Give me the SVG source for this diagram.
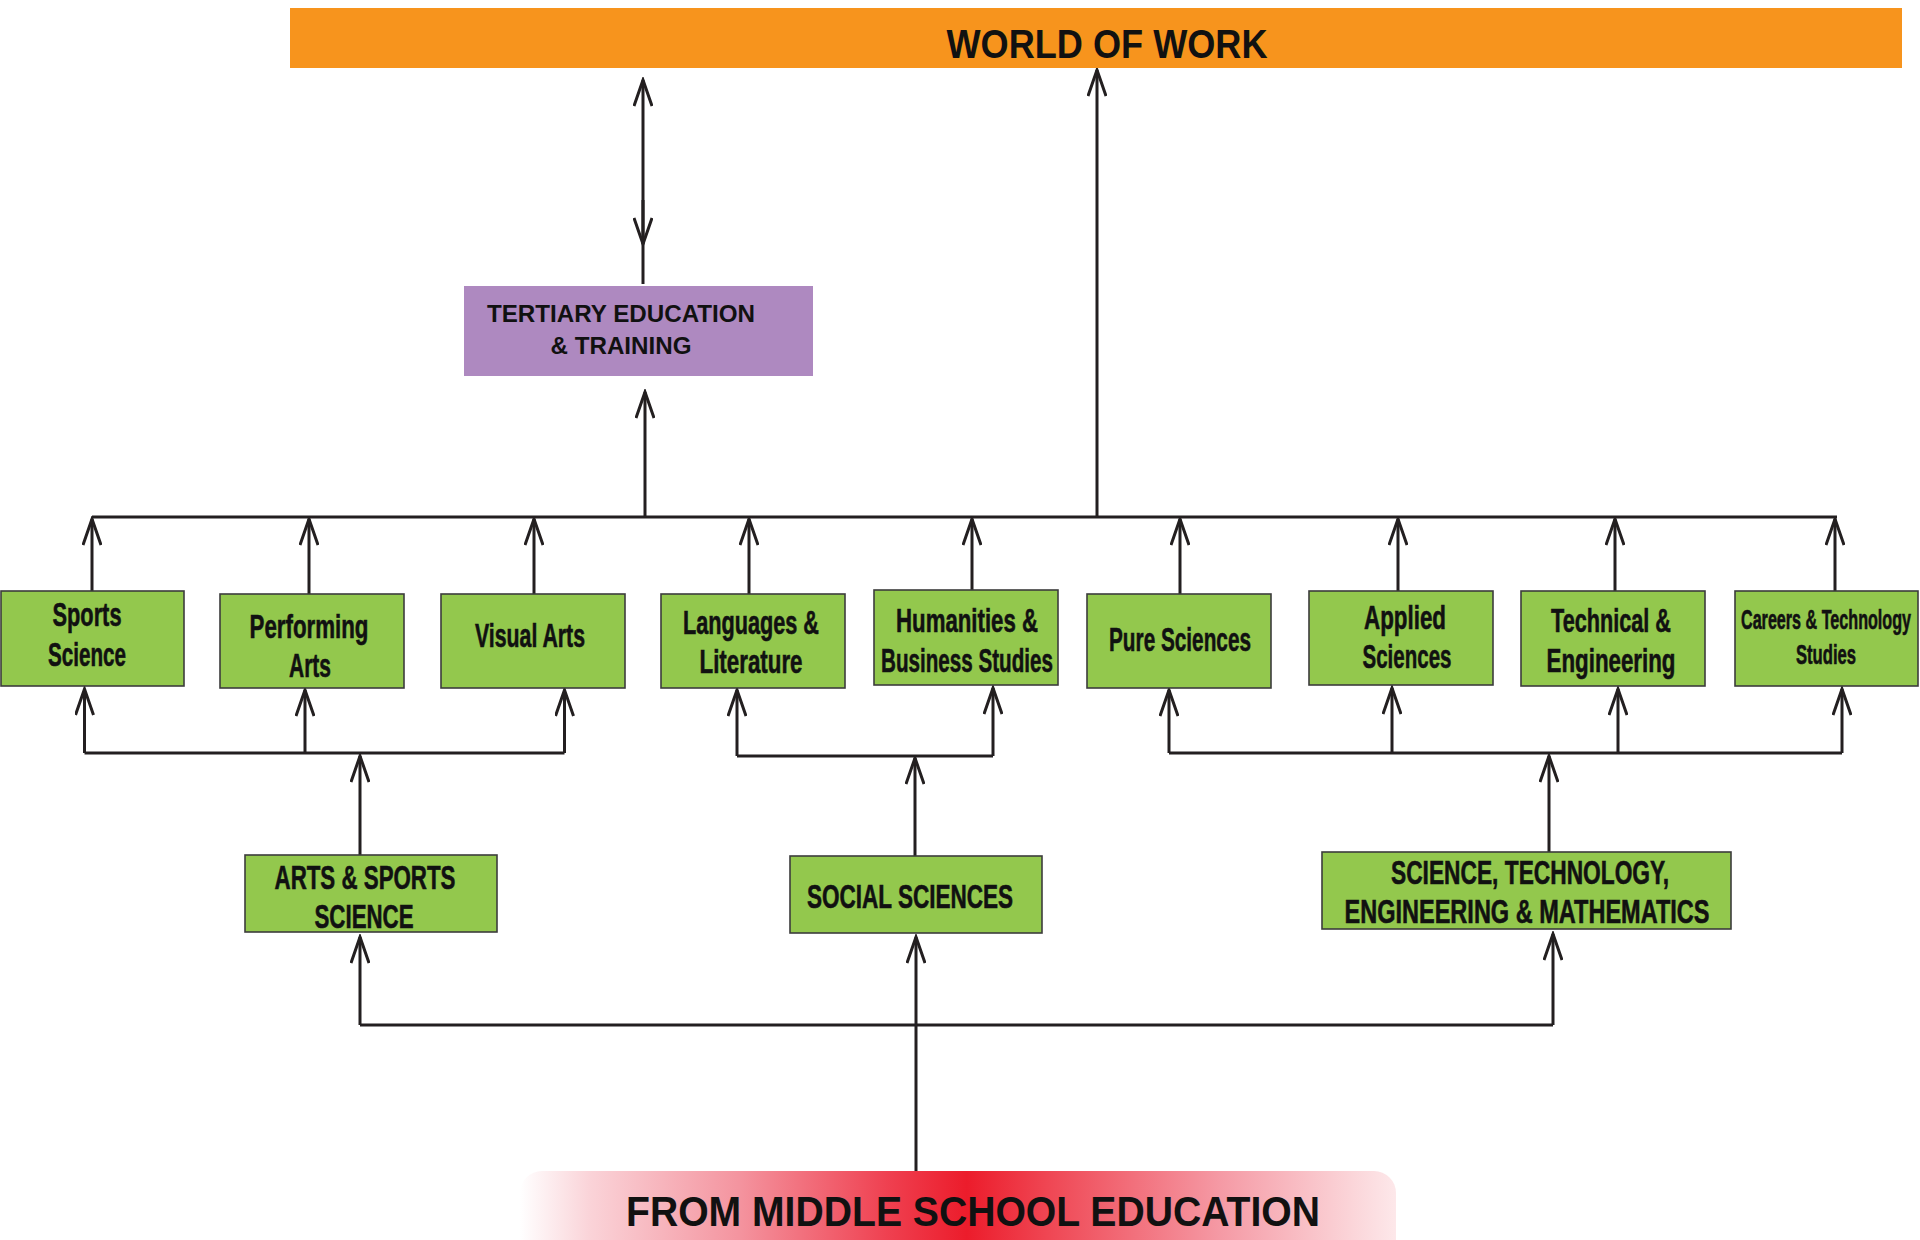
<svg xmlns="http://www.w3.org/2000/svg" width="1920" height="1240" viewBox="0 0 1920 1240">
<defs>
<style>
.box{fill:#93c84d;stroke:#3c3c3c;stroke-width:1.6}
.lbl{font-family:"Liberation Sans",Arial,sans-serif;font-weight:bold;font-size:34px;fill:#111;stroke:#111;stroke-width:0.6;text-anchor:middle}
.sm{font-size:27px}
.hd{font-family:"Liberation Sans",Arial,sans-serif;font-weight:bold;fill:#111;text-anchor:middle}
.ln{fill:none;stroke:#231f20;stroke-width:3}
.ar{fill:none;stroke:#231f20;stroke-width:3;marker-end:url(#arr)}
</style>
<marker id="arr" markerUnits="userSpaceOnUse" viewBox="0 0 30 20" markerWidth="30" markerHeight="20" refX="27" refY="10" orient="auto">
<path d="M1,1 L27,10 L1,19" fill="none" stroke="#231f20" stroke-width="3"/>
</marker>
<linearGradient id="red" x1="0" y1="0" x2="1" y2="0">
<stop offset="0" stop-color="#ffffff"/>
<stop offset="0.08" stop-color="#fad3d8"/>
<stop offset="0.25" stop-color="#f4949f"/>
<stop offset="0.42" stop-color="#ef4050"/>
<stop offset="0.51" stop-color="#ec1c2b"/>
<stop offset="0.6" stop-color="#ef4552"/>
<stop offset="0.8" stop-color="#f59aa5"/>
<stop offset="0.95" stop-color="#fbd5d9"/>
<stop offset="1" stop-color="#fde8ea"/>
</linearGradient>
</defs>
<rect width="1920" height="1240" fill="#ffffff"/>

<g id="connectors">
<path class="ln" d="M92 517 H1837"/>
<path class="ar" d="M643 284 V80"/>
<path class="ar" d="M643 200 V244"/>
<path class="ar" d="M1097 517 V70"/>
<path class="ar" d="M645 517 V392"/>
<path class="ar" d="M92 591 V519"/>
<path class="ar" d="M309 594 V519"/>
<path class="ar" d="M534 594 V519"/>
<path class="ar" d="M749 594 V519"/>
<path class="ar" d="M972 590 V519"/>
<path class="ar" d="M1180 594 V519"/>
<path class="ar" d="M1398 591 V519"/>
<path class="ar" d="M1615 591 V519"/>
<path class="ar" d="M1835 591 V519"/>
<path class="ln" d="M84.5 753 H564.5"/>
<path class="ar" d="M84.5 753 V689"/>
<path class="ar" d="M305 753 V690"/>
<path class="ar" d="M564.5 753 V690"/>
<path class="ar" d="M360 855 V756"/>
<path class="ln" d="M737 756 H993"/>
<path class="ar" d="M737 756 V690"/>
<path class="ar" d="M993 756 V688"/>
<path class="ar" d="M915 856 V758"/>
<path class="ln" d="M1169 753 H1842"/>
<path class="ar" d="M1169 753 V690"/>
<path class="ar" d="M1392 753 V688"/>
<path class="ar" d="M1618 753 V689"/>
<path class="ar" d="M1842 753 V689"/>
<path class="ar" d="M1549 852 V756"/>
<path class="ln" d="M360 1025 H1553"/>
<path class="ar" d="M360 1025 V937"/>
<path class="ar" d="M1553 1025 V934"/>
<path class="ar" d="M916 1171 V937"/>
</g>

<g id="world-of-work">
<rect x="290" y="8" width="1612" height="60" fill="#f7941d"/>
<text class="hd" x="1107" y="58" font-size="41" textLength="321" lengthAdjust="spacingAndGlyphs">WORLD OF WORK</text>
</g>

<g id="tertiary">
<rect x="464" y="286" width="349" height="90" fill="#ae89c0"/>
<text class="hd" x="621" y="322" font-size="24.5" textLength="268" lengthAdjust="spacingAndGlyphs">TERTIARY EDUCATION</text>
<text class="hd" x="621" y="354" font-size="24.5" textLength="141" lengthAdjust="spacingAndGlyphs">&amp; TRAINING</text>
</g>

<g id="sports-science">
<rect class="box" x="1" y="591" width="183" height="95"/>
<text class="lbl" transform="translate(87,626) scale(0.62,1)" textLength="111.3" lengthAdjust="spacingAndGlyphs">Sports</text>
<text class="lbl" transform="translate(87,666) scale(0.62,1)" textLength="125.8" lengthAdjust="spacingAndGlyphs">Science</text>
</g>
<g id="performing-arts">
<rect class="box" x="220" y="594" width="184" height="94"/>
<text class="lbl" transform="translate(309,638) scale(0.62,1)" textLength="191.9" lengthAdjust="spacingAndGlyphs">Performing</text>
<text class="lbl" transform="translate(310,677) scale(0.62,1)" textLength="67.7" lengthAdjust="spacingAndGlyphs">Arts</text>
</g>
<g id="visual-arts">
<rect class="box" x="441" y="594" width="184" height="94"/>
<text class="lbl" transform="translate(530,647) scale(0.62,1)" textLength="177.4" lengthAdjust="spacingAndGlyphs">Visual Arts</text>
</g>
<g id="languages-literature">
<rect class="box" x="661" y="594" width="184" height="94"/>
<text class="lbl" transform="translate(751,634) scale(0.62,1)" textLength="219.4" lengthAdjust="spacingAndGlyphs">Languages &amp;</text>
<text class="lbl" transform="translate(751,673) scale(0.62,1)" textLength="166.1" lengthAdjust="spacingAndGlyphs">Literature</text>
</g>
<g id="humanities-business">
<rect class="box" x="874" y="590" width="184" height="95"/>
<text class="lbl" transform="translate(967,632) scale(0.62,1)" textLength="229" lengthAdjust="spacingAndGlyphs">Humanities &amp;</text>
<text class="lbl" transform="translate(967,672) scale(0.62,1)" textLength="277.4" lengthAdjust="spacingAndGlyphs">Business Studies</text>
</g>
<g id="pure-sciences">
<rect class="box" x="1087" y="594" width="184" height="94"/>
<text class="lbl" transform="translate(1180,651) scale(0.62,1)" textLength="229" lengthAdjust="spacingAndGlyphs">Pure Sciences</text>
</g>
<g id="applied-sciences">
<rect class="box" x="1309" y="591" width="184" height="94"/>
<text class="lbl" transform="translate(1405,629) scale(0.62,1)" textLength="132.3" lengthAdjust="spacingAndGlyphs">Applied</text>
<text class="lbl" transform="translate(1407,668) scale(0.62,1)" textLength="143.5" lengthAdjust="spacingAndGlyphs">Sciences</text>
</g>
<g id="technical-engineering">
<rect class="box" x="1521" y="591" width="184" height="95"/>
<text class="lbl" transform="translate(1611,632) scale(0.62,1)" textLength="193.5" lengthAdjust="spacingAndGlyphs">Technical &amp;</text>
<text class="lbl" transform="translate(1611,672) scale(0.62,1)" textLength="208" lengthAdjust="spacingAndGlyphs">Engineering</text>
</g>
<g id="careers-technology">
<rect class="box" x="1735" y="591" width="183" height="95"/>
<text class="lbl sm" transform="translate(1826,629) scale(0.62,1)" textLength="274.2" lengthAdjust="spacingAndGlyphs">Careers &amp; Technology</text>
<text class="lbl sm" transform="translate(1826,664) scale(0.62,1)" textLength="96.8" lengthAdjust="spacingAndGlyphs">Studies</text>
</g>

<g id="arts-sports-science">
<rect class="box" x="245" y="855" width="252" height="77"/>
<text class="lbl" transform="translate(365,889) scale(0.62,1)" textLength="291.9" lengthAdjust="spacingAndGlyphs">ARTS &amp; SPORTS</text>
<text class="lbl" transform="translate(364,928) scale(0.62,1)" textLength="159.7" lengthAdjust="spacingAndGlyphs">SCIENCE</text>
</g>
<g id="social-sciences">
<rect class="box" x="790" y="856" width="252" height="77"/>
<text class="lbl" transform="translate(910,908) scale(0.62,1)" textLength="332.3" lengthAdjust="spacingAndGlyphs">SOCIAL SCIENCES</text>
</g>
<g id="stem">
<rect class="box" x="1322" y="852" width="409" height="77"/>
<text class="lbl" transform="translate(1530,884) scale(0.62,1)" textLength="448.4" lengthAdjust="spacingAndGlyphs">SCIENCE, TECHNOLOGY,</text>
<text class="lbl" transform="translate(1527,923) scale(0.62,1)" textLength="588.7" lengthAdjust="spacingAndGlyphs">ENGINEERING &amp; MATHEMATICS</text>
</g>

<g id="middle-school">
<rect x="520" y="1171" width="876" height="100" rx="22" fill="url(#red)"/>
<text class="hd" x="973" y="1226" font-size="42" textLength="694" lengthAdjust="spacingAndGlyphs">FROM MIDDLE SCHOOL EDUCATION</text>
</g>
</svg>
